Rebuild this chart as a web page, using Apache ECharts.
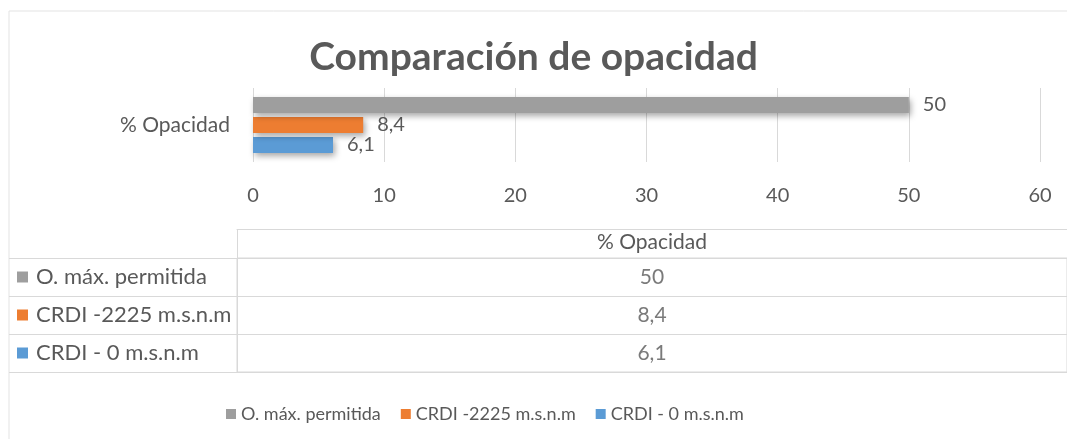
<!DOCTYPE html>
<html>
<head>
<meta charset="utf-8">
<script src="https://cdn.jsdelivr.net/npm/echarts@6/dist/echarts.min.js"></script>
<style>
  html, body { margin: 0; padding: 0; background: #fff; }
  #chart { width: 1067px; height: 439px; }
</style>
</head>
<body>
<div id="chart"></div>
<script>
// datos
const categories = ["% Opacidad"];
const seriesNames = ["O. máx. permitida", "CRDI -2225 m.s.n.m", "CRDI - 0 m.s.n.m"];
const seriesValues = [50, 8.4, 6.1];
const axisMin = 0;
const axisMax = 60;
const axisStep = 10;

const colors = ["#9E9E9E", "#ED7D31", "#5B9BD5"];
const textColor = "#595959";
const lineColor = "#d9d9d9";
const font = "Lato";

// 8.4 -> "8,4"
const fmt = v => String(v).replace(".", ",");

const myChart = echarts.init(document.getElementById("chart"));

// barras, la primera serie queda arriba
const barSeries = seriesNames.map((name, i) => ({
  name: name,
  type: "bar",
  xAxisIndex: 0,
  yAxisIndex: 0,
  data: [seriesValues[i]],
  barWidth: 16,
  barGap: "25%",
  z: 3 - i,
  itemStyle: {
    color: colors[i],
    shadowBlur: 6,
    shadowOffsetX: 2,
    shadowOffsetY: 3,
    shadowColor: "rgba(0,0,0,0.35)"
  },
  label: {
    show: true,
    position: "right",
    distance: 14,
    fontFamily: font,
    fontSize: 20,
    color: textColor,
    formatter: p => fmt(p.value)
  }
}));

// rich text para los cuadritos de la tabla
const rich = { t: { fontFamily: font, fontSize: 22, color: textColor, padding: [0, 0, 0, 8] } };
colors.forEach((c, i) => {
  rich["c" + i] = { width: 11, height: 11, backgroundColor: c };
});

const option = {
  animation: false,
  textStyle: { fontFamily: font },
  title: {
    text: "Comparación de opacidad",
    left: "center",
    top: 33,
    textStyle: { fontFamily: font, fontSize: 39, fontWeight: "bold", color: textColor }
  },
  legend: {
    data: seriesNames,
    left: 221,
    top: 400,
    icon: "rect",
    itemWidth: 10,
    itemHeight: 10,
    itemGap: 20,
    textStyle: { fontFamily: font, fontSize: 18, color: textColor }
  },
  graphic: [{
    type: "rect",
    shape: { x: 9, y: 11, width: 1100, height: 500 },
    style: { fill: "none", stroke: "#e3e3e3", lineWidth: 1 },
    silent: true
  }],
  grid: [
    { left: 253, right: 27, top: 88, height: 74 },
    { left: 237, right: -2, top: 258, height: 114, show: true, borderColor: lineColor, borderWidth: 1 }
  ],
  xAxis: [
    {
      type: "value",
      gridIndex: 0,
      min: axisMin,
      max: axisMax,
      interval: axisStep,
      axisLine: { show: false },
      axisTick: { show: false },
      splitLine: { lineStyle: { color: lineColor } },
      axisLabel: { margin: 24, fontFamily: font, fontSize: 20, color: textColor }
    },
    {
      type: "category",
      gridIndex: 1,
      position: "top",
      data: categories,
      axisLine: { show: true, lineStyle: { color: lineColor } },
      axisTick: { show: true, length: 29, lineStyle: { color: lineColor } },
      axisLabel: { margin: 5, fontFamily: font, fontSize: 21, color: textColor }
    },
    {
      type: "category",
      gridIndex: 1,
      position: "top",
      offset: 29,
      data: categories,
      axisLine: { show: true, lineStyle: { color: lineColor } },
      axisTick: { show: false },
      axisLabel: { show: false }
    }
  ],
  yAxis: [
    {
      type: "category",
      gridIndex: 0,
      data: categories,
      axisLine: { show: false },
      axisTick: { show: false },
      axisLabel: { margin: 23, fontFamily: font, fontSize: 21, color: textColor }
    },
    {
      type: "category",
      gridIndex: 1,
      inverse: true,
      data: seriesNames,
      axisLine: { show: true, lineStyle: { color: lineColor } },
      axisTick: { show: true, length: 228, lineStyle: { color: lineColor } },
      splitLine: { show: true, lineStyle: { color: lineColor } },
      axisLabel: {
        margin: 220,
        align: "left",
        formatter: (v, i) => "{c" + i + "|}{t|" + v + "}",
        rich: rich
      }
    }
  ],
  series: barSeries.concat([{
    name: "tabla",
    type: "scatter",
    xAxisIndex: 1,
    yAxisIndex: 1,
    symbolSize: 1,
    itemStyle: { color: "rgba(0,0,0,0)" },
    data: seriesNames.map((n, i) => [categories[0], n, seriesValues[i]]),
    label: {
      show: true,
      position: "inside",
      fontFamily: font,
      fontSize: 21,
      color: textColor,
      formatter: p => fmt(p.value[2])
    }
  }])
};

myChart.setOption(option);
</script>
</body>
</html>
